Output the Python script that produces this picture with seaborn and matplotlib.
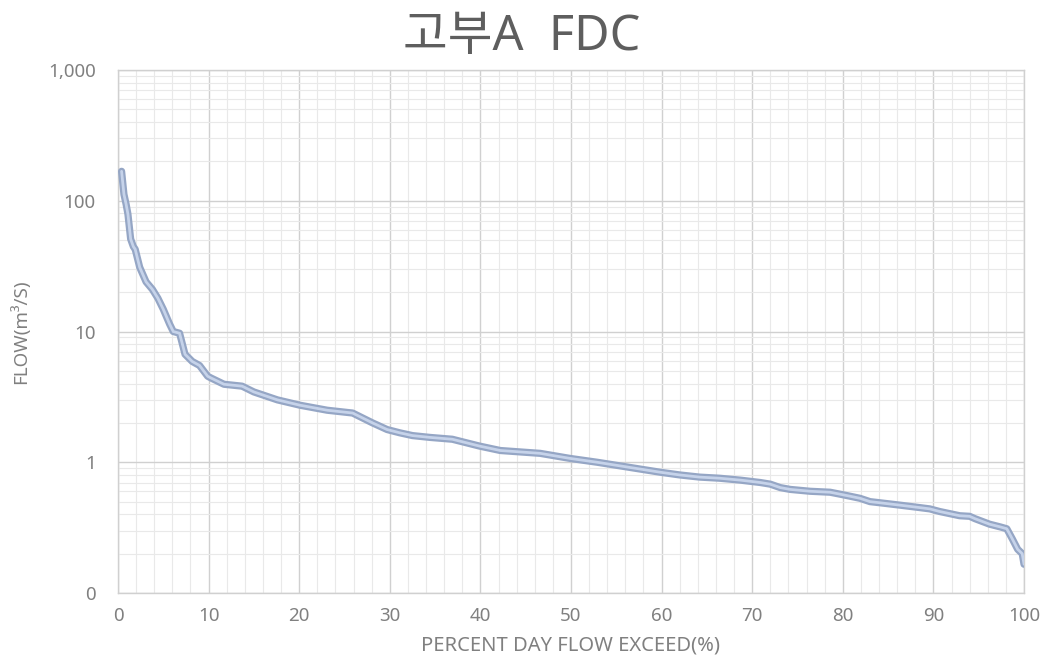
import pandas as pd
import seaborn as sns
import matplotlib.pyplot as plt
from matplotlib.ticker import FixedLocator, MultipleLocator, NullFormatter

# ─── Data ─────────────────────────────────────────────────────────────────────

exceed_pct = [0.4, 0.66, 0.9, 1.1, 1.4, 1.7, 1.9, 2.4, 3.1, 3.8, 4.4, 5.0, 5.7,
              6.1, 6.8, 7.4, 8.2, 9.0, 9.9, 10.3, 11.7, 13.7, 15.0, 17.6, 20.1,
              23.1, 25.9, 28.1, 29.7, 31.1, 32.5, 34.4, 36.9, 39.9, 42.2, 46.6,
              49.9, 52.9, 56.2, 59.8, 62.0, 64.2, 66.4, 68.7, 70.9, 72.0, 73.1,
              74.2, 76.4, 78.6, 79.7, 80.8, 81.9, 83.0, 84.1, 86.3, 88.5, 89.6,
              90.7, 92.9, 94.0, 94.6, 96.2, 97.4, 98.1, 98.7, 99.3, 99.8, 100.0]
flow_cms = [168, 112, 94, 79, 51, 44.6, 42.6, 31, 24, 21, 18, 14.8, 11.4,
            10.0, 9.7, 6.7, 5.9, 5.5, 4.55, 4.4, 3.95, 3.82, 3.45, 3.0, 2.73,
            2.5, 2.38, 2.0, 1.78, 1.68, 1.6, 1.55, 1.5, 1.33, 1.23, 1.17,
            1.07, 1.0, 0.92, 0.84, 0.8, 0.77, 0.755, 0.73, 0.70, 0.68, 0.64,
            0.62, 0.60, 0.59, 0.57, 0.55, 0.53, 0.50, 0.49, 0.47, 0.45, 0.44,
            0.42, 0.39, 0.386, 0.37, 0.336, 0.32, 0.31, 0.26, 0.216, 0.2, 0.166]

y_ticks = [0.1, 1, 10, 100, 1000]
y_tick_labels = ["0", "1", "10", "100", "1,000"]
x_ticks = list(range(0, 101, 10))

df = pd.DataFrame({"exceed": exceed_pct, "flow": flow_cms})

# Style
sns.set_theme(style="white")
plt.rcParams["font.family"] = ["Noto Sans", "Noto Sans CJK KR", "DejaVu Sans"]

text_grey = "#808080"

fig = plt.figure(figsize=(10.43, 6.70), dpi=100)
ax = fig.add_axes([0.1131, 0.1149, 0.8687, 0.7806])

# ─── Curve : darker outline with lighter core ────────────────────────────────

sns.lineplot(data=df, x="exceed", y="flow", ax=ax, color="#95a6c5",
             linewidth=5.2, solid_joinstyle="round", zorder=3)
sns.lineplot(data=df, x="exceed", y="flow", ax=ax, color="#c6d3ea",
             linewidth=2.0, solid_joinstyle="round", zorder=4)

ax.set_yscale("log")
ax.set_xlim(0, 100)
ax.set_ylim(0.1, 1000)

ax.yaxis.set_major_locator(FixedLocator(y_ticks))
ax.set_yticklabels(y_tick_labels)
ax.yaxis.set_minor_locator(FixedLocator(
    [m * 10.0 ** e for e in range(-1, 3) for m in range(2, 10)]))
ax.yaxis.set_minor_formatter(NullFormatter())
ax.set_xticks(x_ticks)
ax.xaxis.set_minor_locator(MultipleLocator(2))

ax.grid(which="major", color="#d0d0d0", linewidth=1.0)
ax.grid(which="minor", color="#e9e9e9", linewidth=0.8)
ax.set_axisbelow(True)
for s in ax.spines.values():
    s.set_color("#d0d0d0")
    s.set_linewidth(1.0)

ax.tick_params(which="both", length=0)
ax.tick_params(axis="y", labelsize=13.5, labelcolor=text_grey, pad=16)
ax.tick_params(axis="x", labelsize=13.5, labelcolor=text_grey, pad=10)

ax.set_xlabel("PERCENT DAY FLOW EXCEED(%)", fontsize=14.5, color=text_grey)
ax.xaxis.set_label_coords(0.5, -0.082)
ax.set_ylabel("FLOW(m³/S)", fontsize=13.5, color=text_grey)
ax.yaxis.set_label_coords(-0.097, 0.5)
fig.text(0.5, 0.945, "고부A  FDC", fontsize=35, color="#5e5e5e",
         ha="center", va="center")

plt.savefig("out.png", dpi=100)
